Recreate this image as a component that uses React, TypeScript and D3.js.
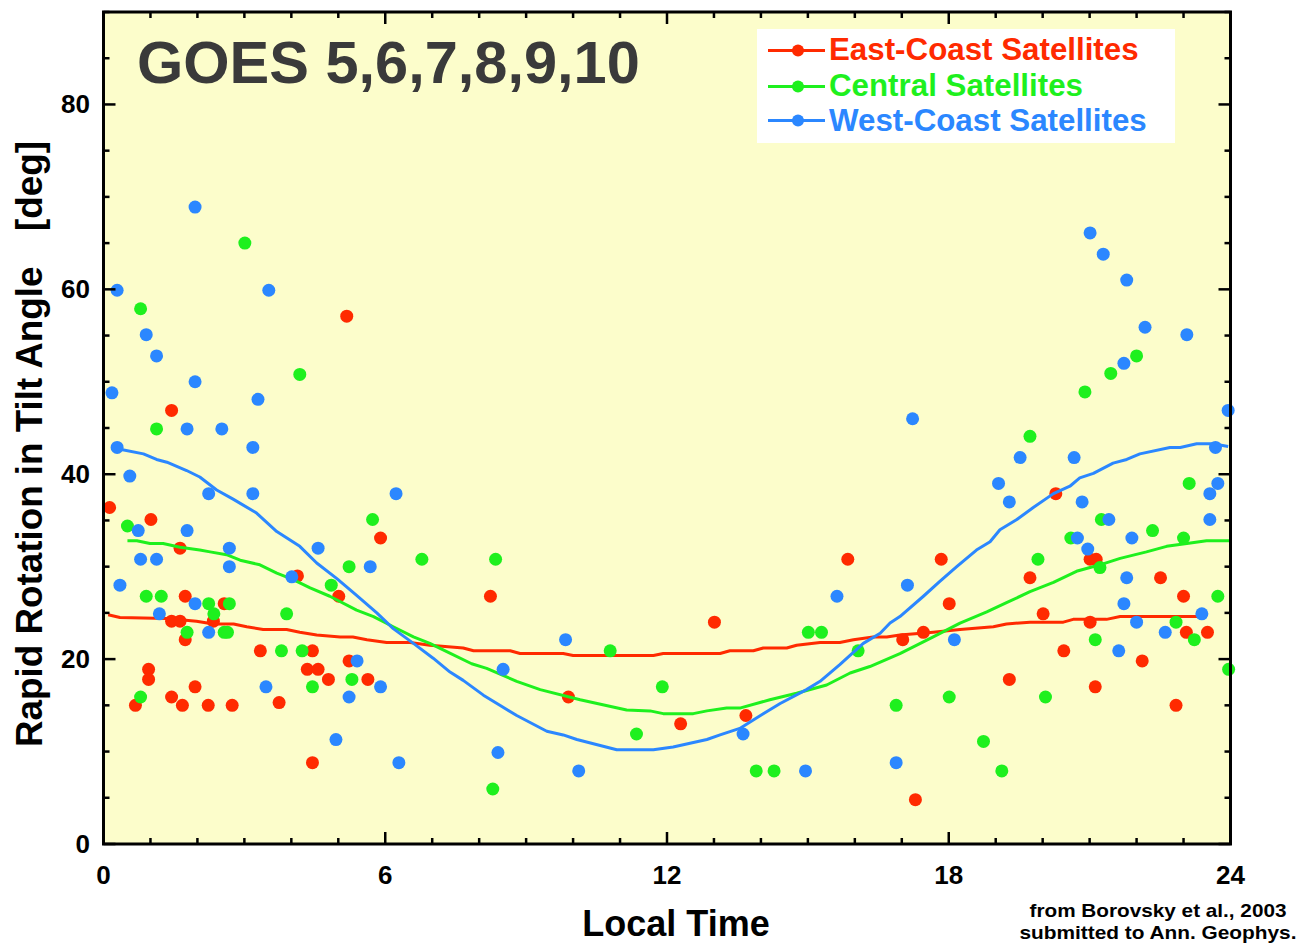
import React from "react";
import * as d3 from "d3";

const xTicksMajor = [0, 6, 12, 18, 24];
const yTicksMajor = [0, 20, 40, 60, 80];

const eastPoints: [number, number][] = [
  [0.13, 36.4], [1.45, 46.9], [1.01, 35.1], [1.63, 32.0], [5.18, 57.1], [5.9, 33.1], [4.13, 29.0],
  [5.01, 26.8], [1.74, 26.8], [2.57, 26.0], [1.45, 24.1], [1.63, 24.1], [2.34, 24.1], [1.74, 22.1],
  [3.34, 20.9], [4.45, 20.9], [4.34, 18.9], [4.57, 18.9], [4.79, 17.8], [5.23, 19.8], [5.63, 17.8],
  [0.96, 18.9], [0.96, 17.8], [0.68, 15.0], [1.45, 15.9], [1.95, 17.0], [1.68, 15.0], [2.23, 15.0],
  [2.74, 15.0], [3.74, 15.3], [4.45, 8.8], [8.24, 26.8], [9.9, 15.9], [13.01, 24.0], [12.29, 13.0],
  [13.68, 13.9], [15.85, 30.8], [17.02, 22.1], [17.46, 22.9], [17.84, 30.8], [18.01, 26.0], [17.29, 4.8],
  [19.29, 17.8], [19.73, 28.8], [20.01, 24.9], [20.45, 20.9], [20.28, 37.9], [21.01, 30.8], [21.14, 30.8],
  [21.01, 24.0], [21.12, 17.0], [22.12, 19.8], [22.51, 28.8], [23.0, 26.8], [23.06, 22.9], [22.84, 15.0],
  [23.51, 22.9],
];

const centralPoints: [number, number][] = [
  [0.79, 57.9], [1.13, 44.9], [4.18, 50.8], [0.51, 34.4], [5.73, 35.1], [5.23, 30.0], [6.78, 30.8],
  [3.01, 65.0], [0.91, 26.8], [1.23, 26.8], [2.24, 26.0], [2.68, 26.0], [2.35, 24.9], [1.78, 22.9],
  [2.57, 22.9], [2.64, 22.9], [3.9, 24.9], [4.85, 28.0], [3.79, 20.9], [4.23, 20.9], [5.29, 17.8],
  [4.45, 17.0], [0.79, 15.9], [8.35, 30.8], [10.79, 20.9], [11.9, 17.0], [11.35, 11.9], [8.29, 5.95],
  [13.9, 7.9], [14.28, 7.9], [15.01, 22.9], [15.29, 22.9], [16.07, 20.9], [16.88, 15.0], [18.01, 15.9],
  [18.74, 11.1], [19.13, 7.9], [20.06, 15.9], [19.9, 30.8], [20.6, 33.1], [21.25, 35.1], [21.22, 29.9],
  [21.12, 22.1], [22.34, 33.9], [23.0, 33.1], [22.84, 24.0], [23.23, 22.1], [23.73, 26.8], [23.96, 18.9],
  [23.12, 39.0], [19.73, 44.1], [20.9, 48.9], [21.45, 50.9], [22.0, 52.8],
];

const westPoints: [number, number][] = [
  [0.29, 59.9], [3.52, 59.9], [0.91, 55.1], [1.13, 52.8], [1.95, 50.0], [0.18, 48.8], [3.29, 48.1],
  [1.78, 44.9], [2.52, 44.9], [0.29, 42.9], [3.18, 42.9], [0.56, 39.8], [2.24, 37.9], [3.18, 37.9],
  [6.23, 37.9], [0.74, 33.9], [1.78, 33.9], [2.68, 32.0], [4.57, 32.0], [0.79, 30.8], [1.13, 30.8],
  [2.68, 30.0], [5.68, 30.0], [4.01, 28.9], [1.95, 68.9], [0.35, 28.0], [1.95, 26.0], [1.19, 24.9],
  [2.24, 22.9], [5.4, 19.8], [3.46, 17.0], [5.9, 17.0], [5.23, 15.9], [4.95, 11.3], [6.29, 8.8],
  [8.51, 18.9], [9.84, 22.1], [8.4, 9.9], [10.12, 7.9], [13.62, 11.9], [14.95, 7.9], [15.62, 26.8],
  [16.88, 8.8], [17.23, 46.0], [21.01, 66.1], [21.29, 63.8], [21.79, 61.0], [22.18, 55.9], [23.07, 55.1],
  [21.73, 52.0], [23.95, 46.9], [23.68, 42.9], [23.73, 39.0], [23.56, 37.9], [23.56, 35.1], [19.52, 41.8],
  [20.67, 41.8], [19.06, 39.0], [19.29, 37.0], [20.84, 37.0], [21.41, 35.1], [17.12, 28.0], [18.12, 22.1],
  [20.74, 33.1], [20.96, 31.9], [21.9, 33.1], [21.79, 28.8], [21.73, 26.0], [22.0, 24.0], [21.62, 20.9],
  [22.61, 22.9], [23.39, 24.9],
];

const eastCurve: [number, number][] = [
  [0.1, 24.8], [0.35, 24.5], [1.35, 24.4], [1.98, 24.1], [2.34, 23.8], [2.77, 23.8], [3.05, 23.5],
  [3.4, 23.2], [3.9, 23.2], [4.18, 22.9], [4.54, 22.6], [5.04, 22.4], [5.31, 22.4], [5.61, 22.1],
  [6.03, 21.8], [6.53, 21.8], [6.95, 21.5], [7.66, 21.2], [7.88, 20.9], [8.66, 20.9], [8.87, 20.6],
  [9.79, 20.6], [10.0, 20.4], [11.71, 20.4], [11.92, 20.6], [13.13, 20.6], [13.34, 20.9], [13.84, 20.9],
  [14.05, 21.2], [14.55, 21.2], [14.76, 21.5], [15.26, 21.8], [15.68, 21.8], [15.97, 22.1], [16.39, 22.4],
  [16.68, 22.4], [16.96, 22.6], [17.67, 22.9], [18.24, 23.2], [18.95, 23.5], [19.23, 23.8], [19.73, 24.0],
  [20.44, 24.0], [20.65, 24.3], [21.36, 24.3], [21.65, 24.6], [23.49, 24.6],
];

const centralCurve: [number, number][] = [
  [0.51, 32.8], [0.71, 32.8], [0.99, 32.5], [1.27, 32.5], [1.63, 32.1], [2.05, 31.8], [2.27, 31.6],
  [2.62, 31.3], [2.91, 30.7], [3.33, 30.2], [3.69, 29.3], [4.04, 28.6], [4.4, 27.7], [4.82, 26.8],
  [5.39, 25.3], [5.75, 24.6], [6.17, 23.5], [6.6, 22.4], [6.95, 21.7], [7.31, 20.8], [7.84, 19.5],
  [8.16, 19.0], [8.8, 17.6], [9.3, 16.7], [10.15, 15.6], [11.14, 14.5], [11.64, 14.4], [11.92, 14.1],
  [12.56, 14.1], [12.85, 14.4], [13.27, 14.7], [13.55, 14.7], [14.19, 15.6], [14.76, 16.3], [15.4, 17.2],
  [15.9, 18.5], [16.32, 19.2], [16.96, 20.6], [17.67, 22.4], [18.24, 23.9], [18.81, 25.1], [19.23, 26.1],
  [19.73, 27.3], [20.23, 28.3], [20.72, 29.5], [21.22, 30.2], [21.65, 30.9], [22.21, 31.6], [22.64, 32.2],
  [23.07, 32.5], [23.49, 32.8], [23.99, 32.8],
];

const westCurve: [number, number][] = [
  [0.35, 42.7], [0.85, 42.2], [1.13, 41.6], [1.35, 41.3], [1.77, 40.4], [2.05, 39.7], [2.41, 38.3],
  [2.76, 37.3], [3.26, 35.8], [3.69, 33.8], [4.18, 32.2], [4.54, 30.4], [4.97, 28.7], [5.39, 26.9],
  [5.82, 25.0], [6.17, 23.3], [6.6, 21.7], [7.02, 20.1], [7.38, 18.6], [7.66, 17.7], [8.09, 16.1],
  [8.44, 15.0], [8.8, 13.9], [9.44, 12.2], [9.79, 11.8], [10.08, 11.3], [10.93, 10.2], [11.71, 10.2],
  [12.13, 10.5], [12.85, 11.3], [13.13, 11.8], [13.55, 12.5], [14.05, 14.1], [14.41, 15.2], [14.97, 16.7],
  [15.26, 17.6], [15.68, 19.4], [16.18, 21.7], [16.54, 22.8], [16.75, 23.9], [16.96, 24.6], [17.46, 26.8],
  [17.81, 28.4], [18.17, 30.0], [18.59, 31.8], [18.88, 32.7], [19.09, 34.0], [19.45, 35.1], [19.8, 36.4],
  [20.23, 37.9], [20.58, 38.7], [20.79, 39.6], [21.08, 40.1], [21.5, 41.2], [21.79, 41.6], [22.07, 42.2],
  [22.71, 42.9], [22.93, 42.9], [23.28, 43.3], [23.63, 43.3], [23.95, 43.0],
];

const seriesNames = ["East-Coast Satellites", "Central Satellites", "West-Coast Satellites"];
const seriesColors = ["#ff2a00", "#1ef01e", "#2b87ff"];

const FONT = "'Liberation Sans', Arial, Helvetica, sans-serif";

export default function App() {
  const W = 1300, H = 944;
  const x = d3.scaleLinear().domain([0, 24]).range([103.5, 1230.5]);
  const y = d3.scaleLinear().domain([0, 90]).range([844, 12]);
  const line = d3.line<[number, number]>().x((d) => x(d[0])).y((d) => y(d[1]));

  const series = [
    { pts: eastPoints, curve: eastCurve },
    { pts: centralPoints, curve: centralCurve },
    { pts: westPoints, curve: westCurve },
  ];

  const xMinor = d3.range(0, 25, 1);
  const yMinor = d3.range(0, 91, 5);
  const [x0, x1] = x.range();
  const yTop = y(90), yBot = y(0);

  return (
    <div style={{ position: "absolute", left: 0, top: 0 }}>
      <svg width={W} height={H} style={{ display: "block" }} fontFamily={FONT}>
        <rect x={0} y={0} width={W} height={H} fill="#ffffff" />
        <rect x={x0} y={yTop} width={x1 - x0} height={yBot - yTop} fill="#fcfdcb" />

        {/* title */}
        <text x={137} y={83} fontSize={59.5} fontWeight="bold" fill="#3a3a3a">GOES 5,6,7,8,9,10</text>

        {/* legend */}
        <rect x={757} y={29} width={418} height={114} fill="#ffffff" />
        {seriesNames.map((n, i) => {
          const ly = [50.5, 86.5, 120.5][i];
          const by = [59.5, 96, 130.5][i];
          return (
            <g key={n}>
              <line x1={768} x2={825} y1={ly} y2={ly} stroke={seriesColors[i]} strokeWidth={3} />
              <circle cx={798} cy={ly} r={6} fill={seriesColors[i]} />
              <text x={829} y={by} fontSize={31.3} fontWeight="bold" fill={seriesColors[i]}>{n}</text>
            </g>
          );
        })}

        {/* series */}
        {series.map((s, i) => (
          <g key={i}>
            <path d={line(s.curve) || ""} fill="none" stroke={seriesColors[i]} strokeWidth={3} strokeLinejoin="round" />
            {s.pts.map((p, j) => (
              <circle key={j} cx={x(p[0])} cy={y(p[1])} r={6.5} fill={seriesColors[i]} />
            ))}
          </g>
        ))}

        {/* ticks */}
        {xMinor.map((t) => {
          const major = t % 6 === 0;
          const len = major ? 12 : 6;
          return (
            <g key={"xt" + t} stroke="#000" strokeWidth={2.5}>
              <line x1={x(t)} x2={x(t)} y1={yBot} y2={yBot - len} />
              <line x1={x(t)} x2={x(t)} y1={yTop} y2={yTop + len} />
            </g>
          );
        })}
        {yMinor.map((t) => {
          const major = t % 20 === 0;
          const len = major ? 12 : 6;
          return (
            <g key={"yt" + t} stroke="#000" strokeWidth={2.5}>
              <line x1={x0} x2={x0 + len} y1={y(t)} y2={y(t)} />
              <line x1={x1} x2={x1 - len} y1={y(t)} y2={y(t)} />
            </g>
          );
        })}
        <rect x={x0} y={yTop} width={x1 - x0} height={yBot - yTop} fill="none" stroke="#000" strokeWidth={3} />

        {/* tick labels */}
        {xTicksMajor.map((t) => (
          <text key={"xl" + t} x={x(t)} y={884} textAnchor="middle" fontSize={26} fontWeight="bold" fill="#000">{t}</text>
        ))}
        {yTicksMajor.map((t) => (
          <text key={"yl" + t} x={90} y={y(t) + 9} textAnchor="end" fontSize={26} fontWeight="bold" fill="#000">{t}</text>
        ))}

        {/* axis titles */}
        <text x={676} y={936} textAnchor="middle" fontSize={36} fontWeight="bold" fill="#000">Local Time</text>
        <text transform="translate(42,747) rotate(-90)" fontSize={36.8} fontWeight="bold" fill="#000">Rapid Rotation in Tilt Angle</text>
        <text transform="translate(42,231) rotate(-90)" fontSize={36.8} fontWeight="bold" fill="#000">[deg]</text>

        {/* citation */}
        <text x={1158} y={917} textAnchor="middle" fontSize={19} fontWeight="bold" fill="#000"
          textLength={257} lengthAdjust="spacingAndGlyphs">from Borovsky et al., 2003</text>
        <text x={1158} y={939} textAnchor="middle" fontSize={19} fontWeight="bold" fill="#000"
          textLength={277} lengthAdjust="spacingAndGlyphs">submitted to Ann. Geophys.</text>
      </svg>
    </div>
  );
}
